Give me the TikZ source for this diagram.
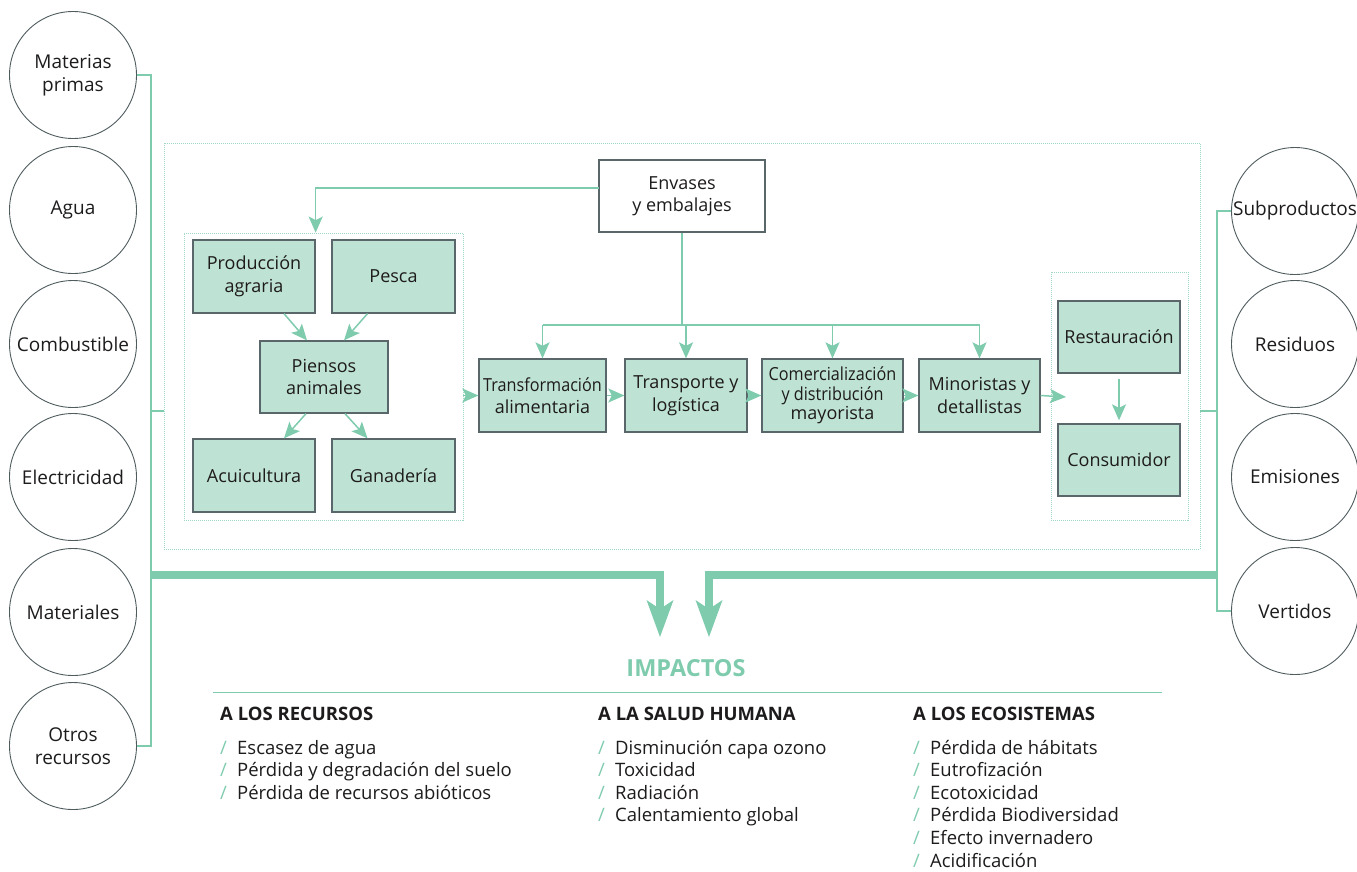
\documentclass[tikz,border=0pt]{standalone}
\usepackage{fontspec}
\setmainfont{Open Sans}
\newfontface\condf[FakeStretch=0.9]{Open Sans}
\usetikzlibrary{arrows.meta,calc}
\definecolor{gc}{HTML}{7FCBAE}
\definecolor{bf}{HTML}{BEE3D4}
\definecolor{bd}{HTML}{59666A}
\definecolor{tx}{HTML}{1E1B1C}
\definecolor{cb}{HTML}{4E5C5E}
\definecolor{dt}{HTML}{9ED8C2}
\newcommand\gsl{\makebox[17pt][l]{\textcolor{gc}{/}}}
\begin{document}
\begin{tikzpicture}[x=1pt,y=-1pt,
 every node/.style={text=tx},
 gbox/.style={draw=bd, line width=1.3pt, fill=bf, align=center, font=\fontsize{18}{22.5}\selectfont, inner sep=0},
 wbox/.style={gbox, fill=white},
 circ/.style={circle, draw=cb, line width=0.9pt, minimum size=127pt, inner sep=0, align=center, font=\fontsize{19}{23}\selectfont},
 dotbox/.style={draw=dt, line width=0.8pt, dash pattern=on 1pt off 1pt, inner sep=0},
 gline/.style={draw=gc, line width=1.5pt},
 garrow/.style={gline, -{Stealth[length=16pt,width=14pt,inset=3.5pt]}},
 bigarrow/.style={draw=gc, line width=7.5pt, -{Stealth[length=37pt,width=27pt,inset=9pt,line width=0pt]}},
 head/.style={anchor=base west, inner sep=0, font=\fontsize{18.5}{22}\bfseries},
 item/.style={anchor=base west, inner sep=0, font=\fontsize{18.5}{22}\selectfont}
]
\useasboundingbox (0,0) rectangle (1357,871);

% dotted frames
\node[dotbox, minimum width=1036pt, minimum height=406pt] (outer) at (682,346) {};
\node[dotbox, minimum width=279pt, minimum height=287pt] (innerL) at (323.5,376.5) {};
\node[dotbox, minimum width=137pt, minimum height=248pt] (innerR) at (1119.5,396) {};

% boxes
\node[wbox, minimum width=166pt, minimum height=72pt] (env) at (682,196) {Envases\\y embalajes};
\node[gbox, minimum width=122pt, minimum height=73pt] (prod) at (254,276.5) {Producción\\agraria};
\node[gbox, minimum width=123pt, minimum height=73pt] (pesca) at (393.5,276.5) {Pesca};
\node[gbox, minimum width=128pt, minimum height=72pt] (pien) at (324,377) {Piensos\\animales};
\node[gbox, minimum width=122pt, minimum height=73pt] (acui) at (254,475.5) {Acuicultura};
\node[gbox, minimum width=123pt, minimum height=73pt] (gana) at (393.5,475.5) {Ganadería};
\node[gbox, minimum width=127pt, minimum height=73pt] (transf) at (542.5,395.5) {{\condf Transformación}\\alimentaria};
\node[gbox, minimum width=122pt, minimum height=73pt] (transp) at (686,395.5) {Transporte y\\logística};
\node[gbox, minimum width=141pt, minimum height=73pt, font=\fontsize{18}{19.5}\selectfont] (comer) at (832.5,395.5) {\condf Comercialización\\\condf y distribución\\mayorista};
\node[gbox, minimum width=121pt, minimum height=73pt] (mino) at (979.5,395.5) {Minoristas y\\detallistas};
\node[gbox, minimum width=122pt, minimum height=72pt] (rest) at (1119,337) {Restauración};
\node[gbox, minimum width=122pt, minimum height=72pt] (cons) at (1119,460) {Consumidor};

% circles
\node[circ] (c1) at (73,75) {Materias\\primas};
\node[circ] (c2) at (73,210) {Agua};
\node[circ] (c3) at (73,344) {Combustible};
\node[circ] (c4) at (73,477) {Electricidad};
\node[circ] (c5) at (73,612) {Materiales};
\node[circ] (c6) at (73,746) {Otros\\recursos};
\node[circ] (r1) at (1295,211) {Subproductos};
\node[circ] (r2) at (1295,344) {Residuos};
\node[circ] (r3) at (1295,477) {Emisiones};
\node[circ] (r4) at (1295,611) {Vertidos};

% coordinates
\coordinate (lb) at (151,411);
\coordinate (rb) at (1217,411);
\coordinate (bus) at (682,325);
\coordinate (envL) at (599,188);
\coordinate (minoEnd) at (1066,397);
\coordinate (la) at (151,575);
\coordinate (ra) at (1217,575);
\coordinate (impL) at (660,637);
\coordinate (impR) at (709,637);

% brackets
\draw[gline] (c1.east) -| (lb) |- (c6.east);
\draw[gline] (lb) -- (outer.west |- lb);
\draw[gline] (r1.west) -| (rb) |- (r4.west);
\draw[gline] (rb) -- (outer.east |- rb);

% envases distribution
\draw[garrow] (envL) -| (innerL.north -| prod.east);
\draw[gline] (env.south) -- (bus);
\draw[gline] (transf.north |- bus) -- (mino.north |- bus);
\foreach \n in {transf,transp,comer,mino}
  \draw[garrow] (\n.north |- bus) -- (\n.north);

% inner flows
\draw[garrow] ([xshift=30pt]prod.south) -- ([xshift=-17pt]pien.north);
\draw[garrow] ([xshift=-26pt]pesca.south) -- ([xshift=20pt]pien.north);
\draw[garrow] ([xshift=-18pt]pien.south) -- ([xshift=30pt]acui.north);
\draw[garrow] ([xshift=21pt]pien.south) -- ([xshift=-26pt]gana.north);

% chain
\draw[garrow] (innerL.east |- transf.west) -- (transf.west);
\draw[garrow] (transf) -- (transp);
\draw[garrow] (transp) -- (comer);
\draw[garrow] (comer) -- (mino);
\draw[garrow] (mino.east) -- (minoEnd);
\draw[garrow, shorten <=5pt, shorten >=3pt] (rest) -- (cons);

% big arrows
\draw[bigarrow] (la) -| (impL);
\draw[bigarrow] (ra) -| (impR);

% impacts
\node[inner sep=0, text=gc, font=\fontsize{23.5}{27}\bfseries] (imp) at (686,668) {IMPACTOS};
\coordinate (hl1) at (213,692);
\coordinate (hl2) at (1162,692);
\draw[draw=gc, line width=1pt] (hl1) -- (hl2);

\node[head] (h1) at (220,720) {A LOS RECURSOS};
\node[head] (h2) at (598,720) {A LA SALUD HUMANA};
\node[head] (h3) at (913,720) {A LOS ECOSISTEMAS};

\foreach \t [count=\i] in {Escasez de agua, Pérdida y degradación del suelo, Pérdida de recursos abióticos}
  \node[item] (a\i) at (220,{731.4+22.6*\i}) {\gsl\t};
\foreach \t [count=\i] in {Disminución capa ozono, Toxicidad, Radiación, Calentamiento global}
  \node[item] (b\i) at (598,{731.4+22.6*\i}) {\gsl\t};
\foreach \t [count=\i] in {Pérdida de hábitats, Eutrofización, Ecotoxicidad, Pérdida Biodiversidad, Efecto invernadero, Acidificación}
  \node[item] (e\i) at (913,{731.4+22.6*\i}) {\gsl\t};
\end{tikzpicture}
\end{document}
